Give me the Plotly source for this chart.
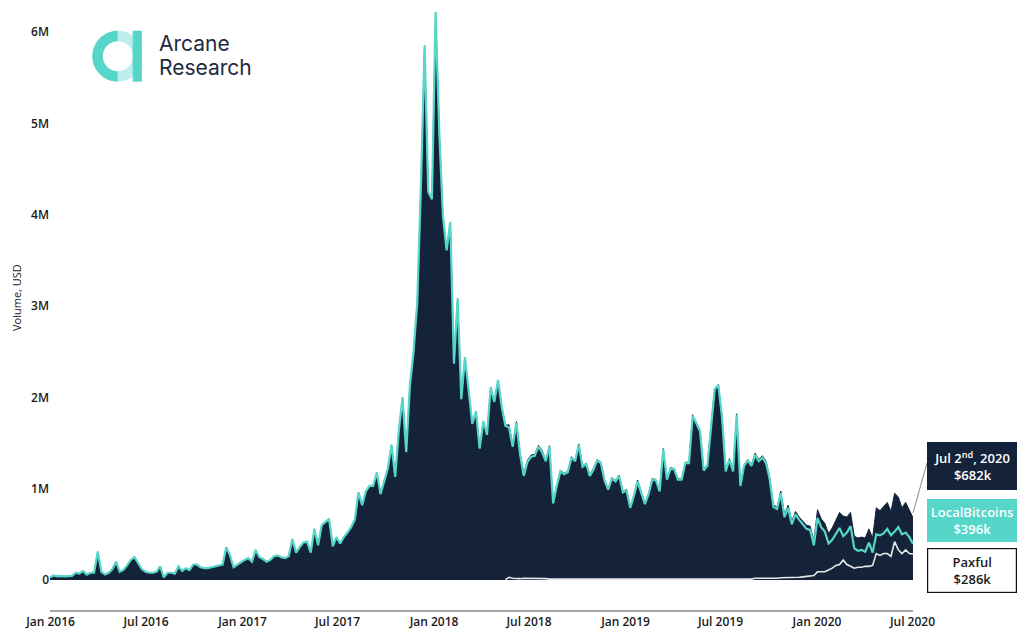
import numpy as np
import pandas as pd
import plotly.graph_objects as go

# ---------------------------------------------------------------------------
# Weekly P2P bitcoin trading volume, USD millions (weeks ending on Thursdays)
# ---------------------------------------------------------------------------
weeks = pd.date_range("2015-12-31", "2020-07-02", freq="7D")

local_bitcoins = [
    0.03, 0.05, 0.04, 0.045, 0.04, 0.045, 0.045, 0.08, 0.07, 0.10,
    0.06, 0.08, 0.08, 0.31, 0.09, 0.06, 0.08, 0.12, 0.20, 0.09,
    0.11, 0.16, 0.22, 0.25, 0.18, 0.12, 0.09, 0.08, 0.08, 0.09,
    0.15, 0.03, 0.08, 0.08, 0.07, 0.15, 0.10, 0.13, 0.11, 0.17,
    0.17, 0.14, 0.13, 0.13, 0.14, 0.15, 0.16, 0.17, 0.36, 0.27,
    0.14, 0.17, 0.19, 0.22, 0.24, 0.20, 0.33, 0.25, 0.23, 0.20,
    0.22, 0.26, 0.27, 0.25, 0.24, 0.26, 0.45, 0.30, 0.36, 0.41,
    0.42, 0.30, 0.56, 0.38, 0.60, 0.64, 0.67, 0.37, 0.47, 0.40,
    0.47, 0.52, 0.58, 0.66, 0.96, 0.82, 0.97, 1.03, 1.03, 1.18,
    0.94, 1.08, 1.22, 1.48, 1.13, 1.64, 2.00, 1.40, 2.13, 2.50,
    3.04, 4.30, 5.85, 4.25, 4.17, 6.22, 4.90, 3.98, 3.61, 3.92,
    2.37, 3.08, 1.98, 2.44, 2.05, 1.71, 1.85, 1.44, 1.74, 1.59,
    2.11, 1.95, 2.19, 1.90, 1.69, 1.67, 1.46, 1.72, 1.38, 1.14,
    1.29, 1.35, 1.36, 1.46, 1.40, 1.30, 1.46, 0.84, 1.03, 1.19,
    1.16, 1.18, 1.34, 1.30, 1.48, 1.24, 1.27, 1.14, 1.21, 1.31,
    1.28, 1.09, 0.99, 1.11, 1.08, 1.14, 0.96, 0.98, 0.79, 0.92,
    1.08, 0.96, 0.83, 0.94, 1.10, 1.09, 0.97, 1.43, 1.10, 1.22,
    1.21, 1.10, 1.10, 1.28, 1.28, 1.80, 1.71, 1.63, 1.20, 1.25,
    1.67, 2.09, 2.13, 1.78, 1.19, 1.32, 1.19, 1.81, 1.03, 1.25,
    1.31, 1.25, 1.37, 1.30, 1.34, 1.28, 1.10, 0.80, 0.78, 0.95,
    0.69, 0.79, 0.61, 0.72, 0.66, 0.61, 0.56, 0.55, 0.38, 0.68,
    0.58, 0.53, 0.40, 0.44, 0.50, 0.57, 0.48, 0.52, 0.59, 0.35,
    0.32, 0.33, 0.31, 0.41, 0.30, 0.50, 0.49, 0.51, 0.56, 0.49,
    0.53, 0.58, 0.50, 0.52, 0.47, 0.396,
]

paxful = [None] * 124 + [
    0.005, 0.03, 0.02, 0.015, 0.015, 0.02, 0.02, 0.02, 0.015, 0.015,
    0.02, 0.015, 0.01, 0.01, 0.01, 0.01, 0.01, 0.01, 0.01, 0.01,
    0.01, 0.01, 0.01, 0.01, 0.015, 0.01, 0.01, 0.01, 0.01, 0.01,
    0.01, 0.01, 0.01, 0.01, 0.01, 0.01, 0.015, 0.01, 0.01, 0.01,
    0.01, 0.01, 0.01, 0.01, 0.01, 0.01, 0.01, 0.01, 0.01, 0.01,
    0.01, 0.01, 0.01, 0.01, 0.015, 0.01, 0.015, 0.01, 0.01, 0.01,
    0.01, 0.01, 0.01, 0.01, 0.01, 0.01, 0.01, 0.01,
    0.02, 0.02, 0.02, 0.02, 0.015, 0.02, 0.02, 0.025, 0.025, 0.03,
    0.03, 0.03, 0.03, 0.035, 0.04, 0.04, 0.05, 0.09, 0.09, 0.09,
    0.11, 0.13, 0.16, 0.17, 0.22, 0.17, 0.15, 0.13, 0.14, 0.14,
    0.15, 0.15, 0.16, 0.29, 0.27, 0.29, 0.29, 0.26, 0.42, 0.33,
    0.29, 0.33, 0.29, 0.286,
]

y_tick_vals = [0, 1, 2, 3, 4, 5, 6]
y_tick_text = ["0", "1M", "2M", "3M", "4M", "5M", "6M"]
x_tick_vals = ["2016-01-01", "2016-07-01", "2017-01-01", "2017-07-01", "2018-01-01",
               "2018-07-01", "2019-01-01", "2019-07-01", "2020-01-01", "2020-07-01"]
x_tick_text = ["Jan 2016", "Jul 2016", "Jan 2017", "Jul 2017", "Jan 2018",
               "Jul 2018", "Jan 2019", "Jul 2019", "Jan 2020", "Jul 2020"]

last_date_label = "Jul 2<sup>nd</sup>, 2020"

lb = np.array(local_bitcoins, dtype=float)
px_vals = np.array([np.nan if v is None else v for v in paxful], dtype=float)
total = lb + np.nan_to_num(px_vals)

# ---------------------------------------------------------------------------
# Layout geometry (pixels) and helpers to place decorations in paper units
# ---------------------------------------------------------------------------
W, H = 1018, 630
ML, MR, MT, MB = 50, 105, 8, 20
PW, PH = W - ML - MR, H - MT - MB


def xp(x):
    return (x - ML) / PW


def yp(y):
    return (H - MB - y) / PH


NAVY = "#15233a"
TEAL = "#55d6c8"
TEAL_LIGHT = "#bdeee9"
TEXT = "#1b1b1b"
FONT = "Open Sans"

fig = go.Figure()

fig.add_trace(go.Scatter(
    x=weeks, y=total, mode="lines", fill="tozeroy",
    fillcolor=NAVY, line=dict(color=NAVY, width=1), name="Total",
))
fig.add_trace(go.Scatter(
    x=weeks, y=lb, mode="lines",
    line=dict(color=TEAL, width=2.2), name="LocalBitcoins",
))
fig.add_trace(go.Scatter(
    x=weeks, y=px_vals, mode="lines", connectgaps=False,
    line=dict(color="#e8e8e8", width=1.6), name="Paxful",
))

# ---------------------------------------------------------------------------
# Logo: a ring split into a teal and a light half, with a teal stem
# ---------------------------------------------------------------------------
cx, cy, r_out, r_in = 117.8, 56.2, 25.5, 15.0
stem_x0, stem_x1 = 132.7, 141.8


def half_ring(a0, a1, clip_x=None):
    ang = np.linspace(a0, a1, 40)
    outer = [(cx + r_out * np.cos(a), cy - r_out * np.sin(a)) for a in ang]
    inner = [(cx + r_in * np.cos(a), cy - r_in * np.sin(a)) for a in ang[::-1]]
    pts = outer + inner
    if clip_x is not None:
        pts = [(min(x, clip_x), y) for x, y in pts]
    d = "M " + " L ".join(f"{xp(x):.5f},{yp(y):.5f}" for x, y in pts) + " Z"
    return d


shapes = [
    dict(type="path", xref="paper", yref="paper", path=half_ring(np.pi / 2, 3 * np.pi / 2),
         fillcolor=TEAL, line=dict(width=0), layer="above"),
    dict(type="path", xref="paper", yref="paper", path=half_ring(-np.pi / 2, np.pi / 2, stem_x1),
         fillcolor=TEAL_LIGHT, line=dict(width=0), layer="above"),
    dict(type="rect", xref="paper", yref="paper",
         x0=xp(stem_x0), x1=xp(stem_x1), y0=yp(cy + r_out), y1=yp(cy - r_out),
         fillcolor=TEAL, line=dict(width=0), layer="above"),
    # leader from the last data point to the callouts
    dict(type="line", xref="paper", yref="paper",
         x0=xp(913), y0=yp(513), x1=xp(927), y1=yp(463),
         line=dict(color="#8a8a8a", width=1)),
]

annotations = [
    dict(text="Arcane", xref="paper", yref="paper", x=xp(157), y=yp(44),
         xanchor="left", yanchor="middle", showarrow=False,
         font=dict(family="Inter", size=21, color="#1e2b3f")),
    dict(text="Research", xref="paper", yref="paper", x=xp(157), y=yp(67.5),
         xanchor="left", yanchor="middle", showarrow=False,
         font=dict(family="Inter", size=21, color="#1e2b3f")),
    dict(text="Volume, USD", xref="paper", yref="paper", x=xp(16), y=yp(298),
         xanchor="center", yanchor="middle", textangle=-90, showarrow=False,
         font=dict(family=FONT, size=11, color=TEXT)),
    # callouts for the latest week
    dict(text=f"{last_date_label}<br>${total[-1] * 1000:.0f}k",
         xref="paper", yref="paper", x=xp(927), y=yp(442),
         xanchor="left", yanchor="top", width=90, height=48,
         bgcolor=NAVY, borderpad=0, borderwidth=0, showarrow=False, align="center",
         font=dict(family=FONT, size=13, color="white", weight=600)),
    dict(text=f"LocalBitcoins<br>${lb[-1] * 1000:.0f}k",
         xref="paper", yref="paper", x=xp(927), y=yp(499),
         xanchor="left", yanchor="top", width=90, height=43,
         bgcolor=TEAL, borderpad=0, borderwidth=0, showarrow=False, align="center",
         font=dict(family=FONT, size=13, color="white", weight=600)),
    dict(text=f"Paxful<br>${px_vals[-1] * 1000:.0f}k",
         xref="paper", yref="paper", x=xp(927), y=yp(548),
         xanchor="left", yanchor="top", width=88, height=43,
         bgcolor="white", bordercolor="#111111", borderwidth=1.2, borderpad=0,
         showarrow=False, align="center",
         font=dict(family=FONT, size=13, color=TEXT, weight=600)),
]

fig.update_layout(
    width=W, height=H,
    margin=dict(l=ML, r=MR, t=MT, b=MB, pad=0),
    paper_bgcolor="white", plot_bgcolor="white",
    showlegend=False, hovermode=False,
    font=dict(family=FONT, color=TEXT),
    shapes=shapes, annotations=annotations,
    xaxis=dict(
        range=[weeks[0], weeks[-1]], tickvals=x_tick_vals, ticktext=x_tick_text,
        showgrid=False, zeroline=False, ticks="", showline=True,
        linecolor="#a3a3a3", linewidth=2, automargin=False,
        tickfont=dict(family=FONT, size=12, color=TEXT, weight=600),
    ),
    yaxis=dict(
        range=[-0.328, 6.263], tickvals=y_tick_vals, ticktext=y_tick_text,
        showgrid=False, zeroline=False, ticks="", showline=False, automargin=False,
        tickfont=dict(family=FONT, size=12, color=TEXT, weight=600),
    ),
)

fig.write_html("out.html")
